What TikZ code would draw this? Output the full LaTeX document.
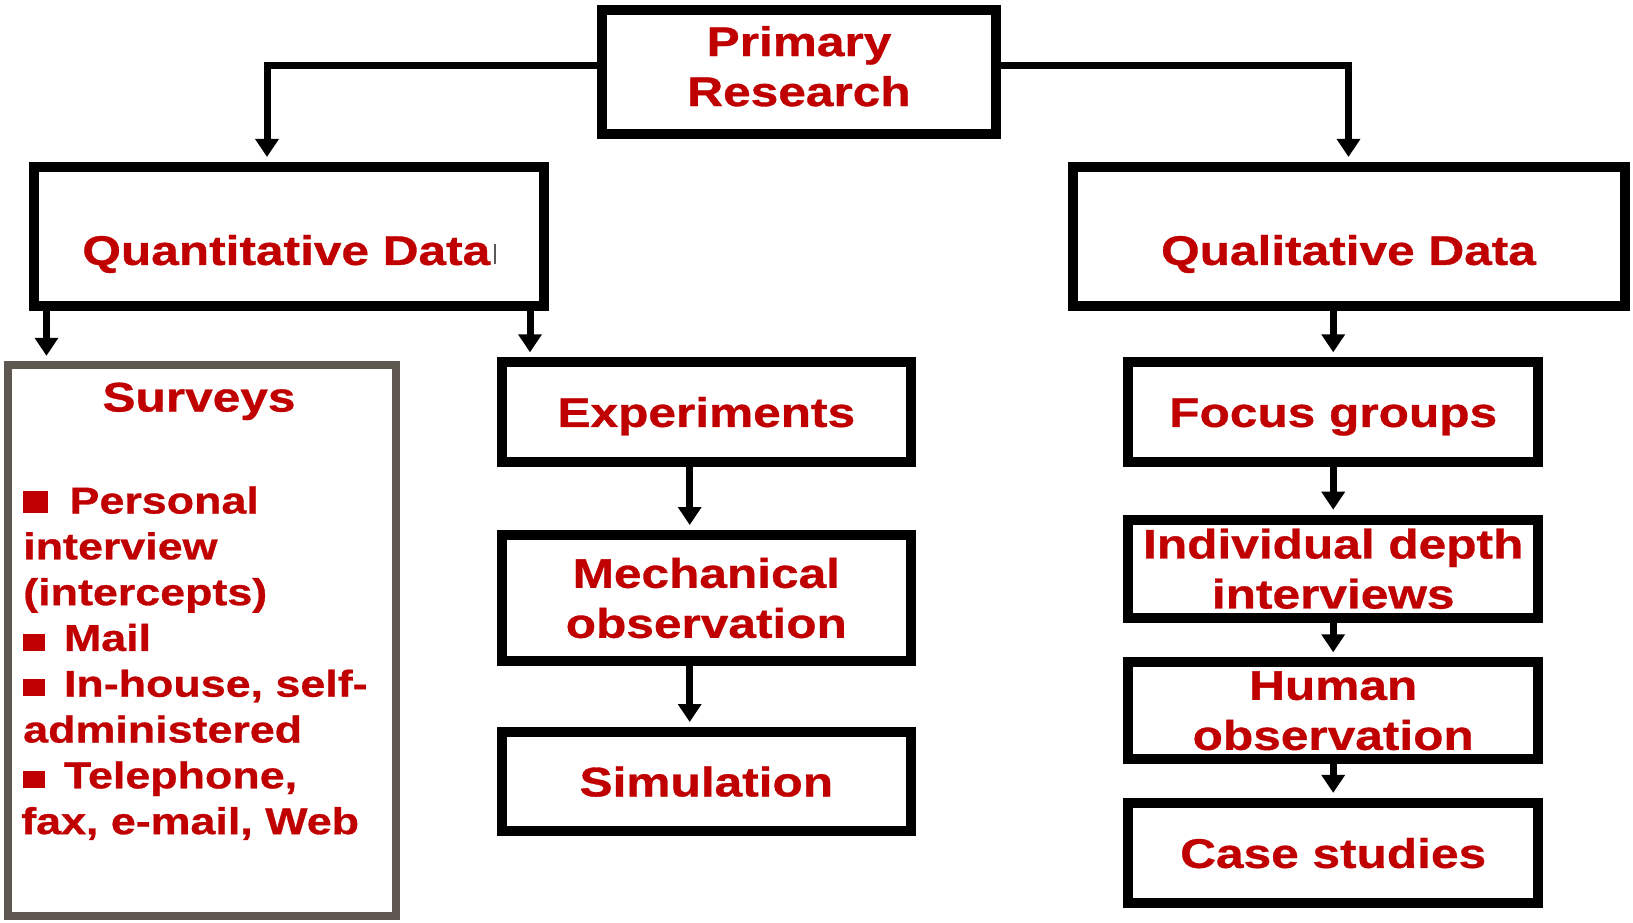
\documentclass[tikz,border=0pt]{standalone}
\usepackage{fontspec}
\usetikzlibrary{arrows.meta}
\newfontfamily\chartfont{Liberation Sans}[FakeStretch=1.2, BoldFeatures={FakeBold=0.8}]
\definecolor{labelred}{RGB}{192,0,0}
\definecolor{surveyframe}{RGB}{94,88,80}
% square bullets of the survey list
\newcommand\bigsq{\rule[0.3pt]{18.75pt}{16.5pt}}
\newcommand\smallsq{\rule[0.3pt]{16.5pt}{12.75pt}}

\begin{document}
\begin{tikzpicture}[x=0.75pt,y=-0.75pt,
  box/.style={draw=black, line width=7.5pt, inner sep=0pt, fill=white,
    align=center, text=labelred,
    font=\chartfont\bfseries\fontsize{31}{37.5}\selectfont},
  oneline/.style={text height=22.3pt, text depth=0pt},
  boxlabel/.style={inner sep=0pt, text=labelred, align=center,
    font=\chartfont\bfseries\fontsize{31}{37.5}\selectfont},
  listline/.style={anchor=base west, inner sep=0pt, text=labelred,
    font=\chartfont\bfseries\fontsize{28}{34}\selectfont},
  conn/.style={draw=black, line width=5.25pt,
    -{Triangle[width=17pt,length=13.5pt]}, shorten >=3.75pt}
]
\useasboundingbox (0,0) rectangle (1633,923);

% top level
\node[box, minimum width=295.5pt, minimum height=93pt,
  label={[boxlabel, yshift=4.3pt]center:{Primary\\Research}}]
  (prim) at (799,72) {};

% the two kinds of data
\node[box, minimum width=383pt, minimum height=104pt,
  label={[boxlabel, oneline, yshift=-10.3pt]center:{Quantitative Data\kern3pt\textcolor{black!65}{\rule[1pt]{1pt}{15pt}}}}]
  (quant) at (289,236.3) {};
\node[box, minimum width=414pt, minimum height=104pt,
  label={[boxlabel, oneline, yshift=-10.3pt]center:Qualitative Data}]
  (qual) at (1348.5,236.3) {};

% surveys panel
\node[box, draw=surveyframe, line width=6pt, minimum width=291.5pt, minimum height=413.5pt] (surv) at (202,640.5) {};
\node[boxlabel, anchor=base] (survtitle) at (199,411.5) {Surveys};
\node[listline] (s1) at (23,513.5) {\bigsq\hspace{16pt}Personal};
\node[listline] (s2) at (23,559.3) {interview};
\node[listline] (s3) at (23,605.1) {(intercepts)};
\node[listline] (s4) at (23,650.9) {\smallsq\hspace{14pt}Mail};
\node[listline] (s5) at (23,696.7) {\smallsq\hspace{14pt}In-house, self-};
\node[listline] (s6) at (23,742.5) {administered};
\node[listline] (s7) at (23,788.3) {\smallsq\hspace{14pt}Telephone,};
\node[listline] (s8) at (21,834.1) {fax, e-mail, Web};

% quantitative methods
\node[box, oneline, minimum width=307pt, minimum height=74.5pt] (exper) at (706.3,412) {Experiments};
\node[box, minimum width=307pt, minimum height=94.5pt] (mech) at (706.3,598) {Mechanical\\observation};
\node[box, oneline, minimum width=307pt, minimum height=74.25pt] (simu) at (706.3,781.5) {Simulation};

% qualitative methods
\node[box, oneline, minimum width=307.3pt, minimum height=74.5pt] (focus) at (1333.2,412) {Focus groups};
\node[box, minimum width=307.3pt, minimum height=73.5pt] (indiv) at (1333.2,568.7) {Individual depth\\interviews};
\node[box, minimum width=307.3pt, minimum height=72.75pt] (human) at (1333.2,710.8) {Human\\observation};
\node[box, oneline, minimum width=307.3pt, minimum height=75.2pt] (cases) at (1333.2,853) {Case studies};

% connectors
\draw[conn] ([yshift=4.9pt]prim.west) -| ([xshift=-16.5pt]quant.north);
\draw[conn] ([yshift=4.9pt]prim.east) -| (qual.north);

\draw[conn] ([xshift=-181.9pt]quant.south) coordinate (qa) -- (qa |- surv.north);
\draw[conn] ([xshift=180.75pt]quant.south) coordinate (qb) -- (qb |- exper.north);
\draw[conn] (qual.south -| focus.north) -- (focus.north);

\draw[conn] ([xshift=-12.45pt]exper.south) -- ([xshift=-12.45pt]mech.north);
\draw[conn] ([xshift=-12.45pt]mech.south) -- ([xshift=-12.45pt]simu.north);

\draw[conn] (focus.south) -- (indiv.north);
\draw[conn] (indiv.south) -- (human.north);
\draw[conn] (human.south) -- (cases.north);
\end{tikzpicture}
\end{document}
